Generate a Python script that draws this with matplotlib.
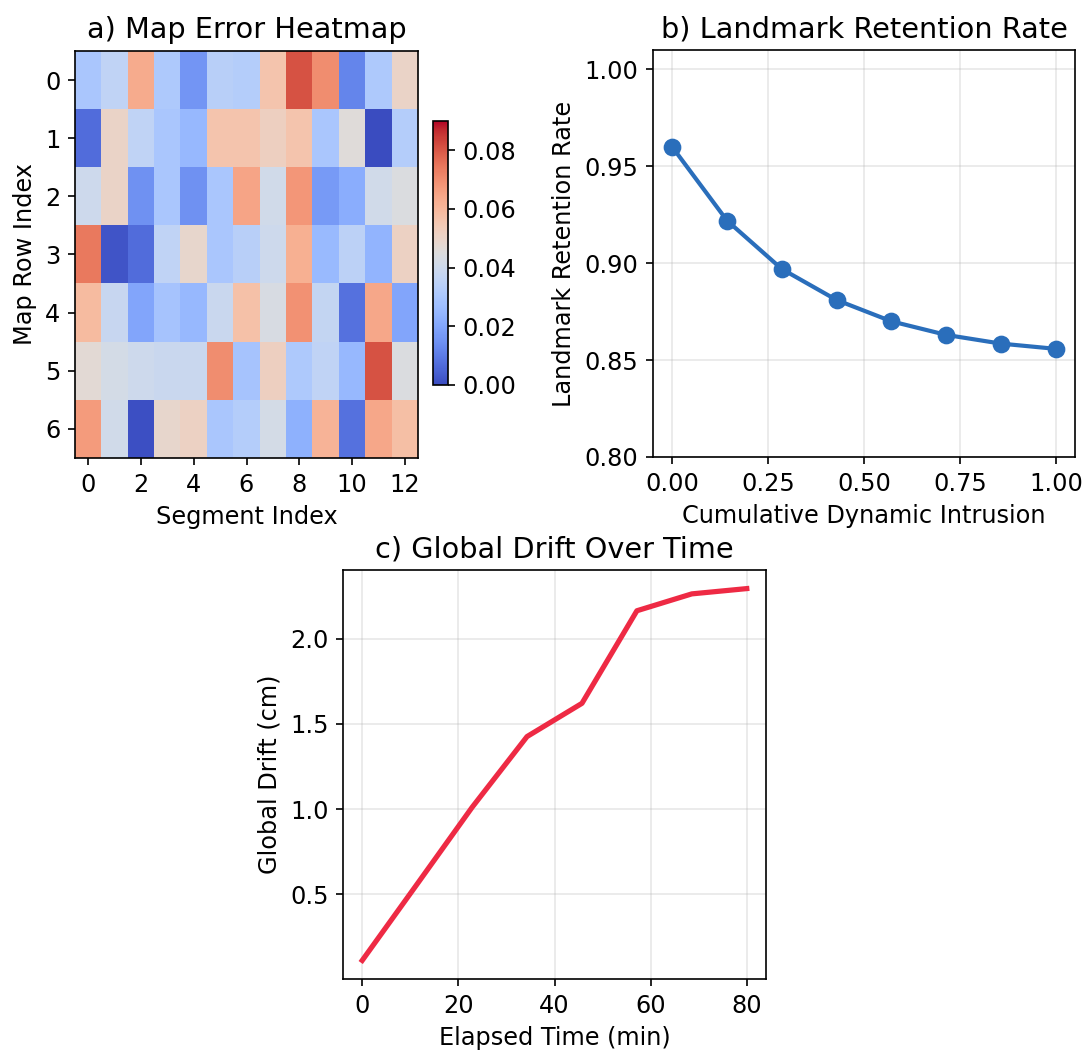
import numpy as np
import matplotlib
matplotlib.use("Agg")
import matplotlib.pyplot as plt

# ---------------- data ----------------
heat_rows = [0, 1, 2, 3, 4, 5, 6]
heat_cols = list(range(13))
heat_values = [
    [0.030, 0.036, 0.063, 0.031, 0.016, 0.034, 0.033, 0.056, 0.081, 0.070, 0.012, 0.031, 0.050],
    [0.007, 0.050, 0.036, 0.030, 0.025, 0.056, 0.056, 0.052, 0.056, 0.030, 0.046, 0.000, 0.033],
    [0.040, 0.050, 0.015, 0.030, 0.015, 0.030, 0.065, 0.041, 0.068, 0.017, 0.022, 0.041, 0.044],
    [0.074, 0.002, 0.007, 0.036, 0.049, 0.030, 0.034, 0.040, 0.062, 0.026, 0.035, 0.024, 0.051],
    [0.059, 0.038, 0.020, 0.029, 0.025, 0.039, 0.057, 0.043, 0.069, 0.037, 0.008, 0.064, 0.020],
    [0.047, 0.042, 0.040, 0.039, 0.039, 0.070, 0.029, 0.052, 0.031, 0.036, 0.025, 0.081, 0.044],
    [0.067, 0.041, 0.001, 0.049, 0.051, 0.030, 0.033, 0.042, 0.023, 0.061, 0.008, 0.064, 0.058],
]
heat_vmin = 0.0
heat_vmax = 0.090
cbar_ticks = [0.00, 0.02, 0.04, 0.06, 0.08]

intrusion = [0.0, 1/7, 2/7, 3/7, 4/7, 5/7, 6/7, 1.0]
retention = [0.960, 0.922, 0.897, 0.881, 0.870, 0.863, 0.8585, 0.8558]

elapsed = [0.0, 80/7, 160/7, 240/7, 320/7, 400/7, 480/7, 80.0]
drift = [0.112, 0.56, 1.01, 1.425, 1.62, 2.163, 2.262, 2.293]

# ---------------- figure ----------------
W, H = 1086, 1051
DPI = 150
plt.rcParams['font.family'] = ['DejaVu Sans']
fig = plt.figure(figsize=(W / DPI, H / DPI), dpi=DPI)

def rect(x0, y0, x1, y1):
    return [x0 / W, 1 - y1 / H, (x1 - x0) / W, (y1 - y0) / H]

TITLE_FS = 13.8
LABEL_FS = 11.5
TICK_FS = 11.5

# a) heatmap
ax_a = fig.add_axes(rect(75, 51, 418, 458))
im = ax_a.imshow(np.array(heat_values), cmap='coolwarm', aspect='auto',
                 vmin=heat_vmin, vmax=heat_vmax, interpolation='nearest')
ax_a.set_xticks(heat_cols[::2])
ax_a.set_yticks(heat_rows)
ax_a.set_xlabel('Segment Index', fontsize=LABEL_FS)
ax_a.set_ylabel('Map Row Index', fontsize=LABEL_FS)
ax_a.set_title('a) Map Error Heatmap', fontsize=TITLE_FS)
ax_a.tick_params(labelsize=TICK_FS)

cax = fig.add_axes(rect(433, 121, 448, 385))
cb = fig.colorbar(im, cax=cax, ticks=cbar_ticks)
cb.ax.set_yticklabels([f'{t:.2f}' for t in cbar_ticks])
cb.ax.tick_params(labelsize=TICK_FS)

# b) retention
ax_b = fig.add_axes(rect(653, 50, 1075, 457))
ax_b.plot(intrusion, retention, '-o', color='#2a6ebb', lw=2, markersize=7.5)
ax_b.set_ylim(0.80, 1.01)
ax_b.set_xticks([0.0, 0.25, 0.5, 0.75, 1.0])
ax_b.set_xticklabels(['0.00', '0.25', '0.50', '0.75', '1.00'])
ax_b.set_yticks([0.80, 0.85, 0.90, 0.95, 1.00])
ax_b.set_yticklabels(['0.80', '0.85', '0.90', '0.95', '1.00'])
ax_b.grid(True, alpha=0.3)
ax_b.set_xlabel('Cumulative Dynamic Intrusion', fontsize=LABEL_FS)
ax_b.set_ylabel('Landmark Retention Rate', fontsize=LABEL_FS)
ax_b.set_title('b) Landmark Retention Rate', fontsize=TITLE_FS)
ax_b.tick_params(labelsize=TICK_FS)

# c) drift
ax_c = fig.add_axes(rect(343, 570, 766, 979))
ax_c.plot(elapsed, drift, '-', color='#ee2a44', lw=2.5)
ax_c.set_xticks([0, 20, 40, 60, 80])
ax_c.set_yticks([0.5, 1.0, 1.5, 2.0])
ax_c.grid(True, alpha=0.3)
ax_c.set_xlabel('Elapsed Time (min)', fontsize=LABEL_FS)
ax_c.set_ylabel('Global Drift (cm)', fontsize=LABEL_FS)
ax_c.set_title('c) Global Drift Over Time', fontsize=TITLE_FS)
ax_c.tick_params(labelsize=TICK_FS)

fig.savefig('out.png', dpi=DPI)
